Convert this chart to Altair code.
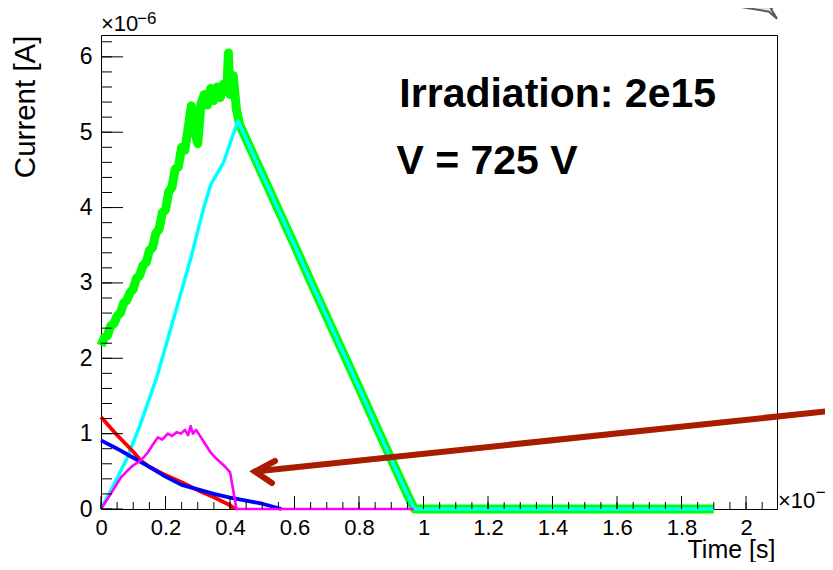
import altair as alt
import pandas as pd

# ---- data: time in ns (axis x10^-9), current in uA (axis x10^-6) ----
green_t = [0.00, 0.01, 0.02, 0.03, 0.04, 0.05, 0.06, 0.07, 0.08, 0.09,
           0.10, 0.11, 0.12, 0.13, 0.14, 0.15, 0.16, 0.17, 0.18, 0.19,
           0.20, 0.21, 0.22, 0.23, 0.24, 0.25, 0.26, 0.27, 0.28, 0.29,
           0.30, 0.31, 0.32, 0.33, 0.34, 0.35, 0.36, 0.37, 0.38, 0.39,
           0.395, 0.40, 0.41, 0.42, 0.43, 0.45, 0.50, 0.55, 0.60, 0.65,
           0.70, 0.75, 0.80, 0.85, 0.90, 0.95, 0.972, 1.90]
green_i = [2.17, 2.27, 2.30, 2.43, 2.46, 2.56, 2.60, 2.73, 2.77, 2.87,
           2.92, 3.06, 3.10, 3.23, 3.27, 3.43, 3.47, 3.66, 3.71, 3.93,
           3.97, 4.21, 4.27, 4.51, 4.54, 4.80, 4.76, 5.05, 5.35, 5.02,
           4.85, 5.38, 5.50, 5.36, 5.58, 5.42, 5.60, 5.46, 5.64, 5.54,
           6.05, 5.50, 5.75, 5.30, 5.10, 4.91, 4.44, 3.97, 3.50, 3.02,
           2.55, 2.08, 1.61, 1.13, 0.66, 0.19, 0.00, 0.00]

cyan_t = [0.00, 0.04, 0.08, 0.12, 0.17, 0.20, 0.24, 0.28, 0.30, 0.32,
          0.34, 0.36, 0.38, 0.40, 0.425, 0.45, 0.50, 0.55, 0.60, 0.65,
          0.70, 0.75, 0.80, 0.85, 0.90, 0.95, 0.972, 1.90]
cyan_i = [0.00, 0.32, 0.67, 1.10, 1.71, 2.15, 2.75, 3.35, 3.69, 4.02,
          4.30, 4.45, 4.60, 4.85, 5.15, 4.91, 4.44, 3.97, 3.50, 3.02,
          2.55, 2.08, 1.61, 1.13, 0.66, 0.19, 0.00, 0.00]

red_t = [0.00, 0.05, 0.10, 0.124, 0.15, 0.20, 0.25, 0.30, 0.35, 0.40, 0.415]
red_i = [1.22, 0.98, 0.76, 0.64, 0.56, 0.45, 0.355, 0.25, 0.156, 0.05, 0.00]

blue_t = [0.00, 0.05, 0.10, 0.15, 0.20, 0.25, 0.30, 0.35, 0.40, 0.45, 0.50, 0.56]
blue_i = [0.91, 0.80, 0.68, 0.56, 0.43, 0.32, 0.26, 0.20, 0.15, 0.11, 0.07, 0.00]

magenta_t = [0.00, 0.03, 0.062, 0.08, 0.10, 0.125, 0.145, 0.16, 0.176, 0.19,
             0.207, 0.22, 0.235, 0.248, 0.26, 0.27, 0.278, 0.285, 0.295, 0.31,
             0.325, 0.34, 0.355, 0.37, 0.385, 0.40, 0.41, 0.42, 0.97]
magenta_i = [0.00, 0.20, 0.42, 0.50, 0.58, 0.65, 0.75, 0.85, 0.95, 0.92,
             1.00, 0.97, 1.02, 1.00, 1.05, 0.98, 1.10, 1.00, 1.05, 0.95,
             0.85, 0.75, 0.68, 0.62, 0.56, 0.49, 0.25, 0.00, 0.00]

x_major = [0, 0.2, 0.4, 0.6, 0.8, 1.0, 1.2, 1.4, 1.6, 1.8, 2.0]
x_minor = [round(0.05 * k, 2) for k in range(0, 42)]
y_major = [0, 1, 2, 3, 4, 5, 6]
y_minor = [round(0.2 * k, 1) for k in range(0, 32)]

# annotation texts
ann_labels = ["Irradiation: 2e15", "V = 725 V"]
ann_t = [0.925, 0.916]
ann_i = [5.34, 4.44]

# arrow (in data coordinates)
arrow_shaft_t = [0.4775, 2.2915]
arrow_shaft_i = [0.497, 1.315]
arrow_head_t = [0.5395, 0.4775, 0.530]
arrow_head_i = [0.637, 0.497, 0.345]

W, H = 676, 474
FONT = "Liberation Sans"

xscale = alt.Scale(domain=[0, 2.096], nice=False, zero=False)
yscale = alt.Scale(domain=[0, 6.29], nice=False, zero=False)

X = alt.X("t:Q", scale=xscale, axis=alt.Axis(
    values=x_major, labelExpr="format(datum.value, '.1~f')",
    grid=False, ticks=False, tickSize=0, domain=False,
    labelFont=FONT, labelFontSize=22, labelColor="black", labelPadding=8,
    labelFlush=False, labelOverlap=False,
    title="Time [s]", titleFont=FONT, titleFontSize=25, titleFontWeight="normal",
    titleColor="black", titleX=W - 2, titleY=48, titleAlign="right",
    titleBaseline="alphabetic"))
Y = alt.Y("i:Q", scale=yscale, axis=alt.Axis(
    values=y_major, labelExpr="format(datum.value, '.1~f')",
    grid=False, ticks=False, tickSize=0, domain=False,
    labelFont=FONT, labelFontSize=23, labelColor="black", labelPadding=9,
    labelFlush=False, labelOverlap=False,
    title="Current [A]", titleFont=FONT, titleFontSize=29.5, titleFontWeight="normal",
    titleColor="black", titleAngle=270, titleX=-67, titleY=0, titleAlign="right",
    titleBaseline="alphabetic"))


def series(t, i, color, width):
    df = pd.DataFrame({"t": t, "i": i})
    return alt.Chart(df).mark_line(color=color, strokeWidth=width,
                                   strokeJoin="round").encode(x=X, y=Y)


layers = [
    series(green_t, green_i, "#00ff00", 9),
    series(cyan_t, cyan_i, "#00ffff", 3.5),
    series(red_t, red_i, "#ff0000", 3.8),
    series(blue_t, blue_i, "#0000ff", 3.8),
    series(magenta_t, magenta_i, "#ff00ff", 2.6),
]

# inward ticks
layers.append(alt.Chart(pd.DataFrame({"t": x_major})).mark_rule(color="black", strokeWidth=1)
              .encode(x=X, y=alt.value(H), y2=alt.value(H - 13)))
layers.append(alt.Chart(pd.DataFrame({"t": x_minor})).mark_rule(color="black", strokeWidth=1)
              .encode(x=X, y=alt.value(H), y2=alt.value(H - 7)))
layers.append(alt.Chart(pd.DataFrame({"i": y_major})).mark_rule(color="black", strokeWidth=1)
              .encode(y=Y, x=alt.value(0), x2=alt.value(22)))
layers.append(alt.Chart(pd.DataFrame({"i": y_minor})).mark_rule(color="black", strokeWidth=1)
              .encode(y=Y, x=alt.value(0), x2=alt.value(11)))

# exponent labels
exp_main = pd.DataFrame({"t": [0.0, 2.099], "i": [6.339, 0.013], "s": ["\u00d710", "\u00d710"]})
exp_sup = pd.DataFrame({"t": [0.1116, 2.216], "i": [6.43, 0.146], "s": ["\u22126", "\u22129"]})
layers.append(alt.Chart(exp_main).mark_text(align="left", baseline="alphabetic", font=FONT,
                                            fontSize=22, color="black")
              .encode(x=X, y=Y, text="s:N"))
layers.append(alt.Chart(exp_sup).mark_text(align="left", baseline="alphabetic", font=FONT,
                                           fontSize=17, color="black")
              .encode(x=X, y=Y, text="s:N"))

# annotation text
ann = pd.DataFrame({"t": ann_t, "i": ann_i, "s": ann_labels})
layers.append(alt.Chart(ann).mark_text(align="left", baseline="alphabetic", font=FONT,
                                       fontWeight="bold", fontSize=41, color="black")
              .encode(x=X, y=Y, text="s:N"))

# arrow
ARROW = "#a81c00"
layers.append(alt.Chart(pd.DataFrame({"t": arrow_shaft_t, "i": arrow_shaft_i}))
              .mark_line(color=ARROW, strokeWidth=6, strokeCap="round").encode(x=X, y=Y))
layers.append(alt.Chart(pd.DataFrame({"t": arrow_head_t, "i": arrow_head_i, "k": [0, 1, 2]}))
              .mark_line(color=ARROW, strokeWidth=6, strokeCap="round", strokeJoin="miter")
              .encode(x=X, y=Y, order="k:Q"))

# grey decoration shape at the top right corner
shape_path = "M-0.5,-0.2 L-0.48,-0.04 L0.24,0.08 L0.4,0.22 L0.28,0.02 L0.56,-0.2 Z"
layers.append(alt.Chart(pd.DataFrame({"t": [2.034], "i": [6.653]}))
              .mark_point(shape=shape_path, size=10000, filled=True, fill="#e4e4e4",
                          stroke="#5a5a5a", strokeWidth=2, opacity=1)
              .encode(x=X, y=Y))

chart = alt.layer(*layers).properties(
    width=W, height=H,
    padding={"left": 93, "top": 27, "right": 48, "bottom": 53},
    autosize=alt.AutoSizeParams(type="none"),
    background="white",
).configure_view(stroke="black", strokeWidth=1)

chart.save("out.html", embed_options={"renderer": "svg", "actions": False})
